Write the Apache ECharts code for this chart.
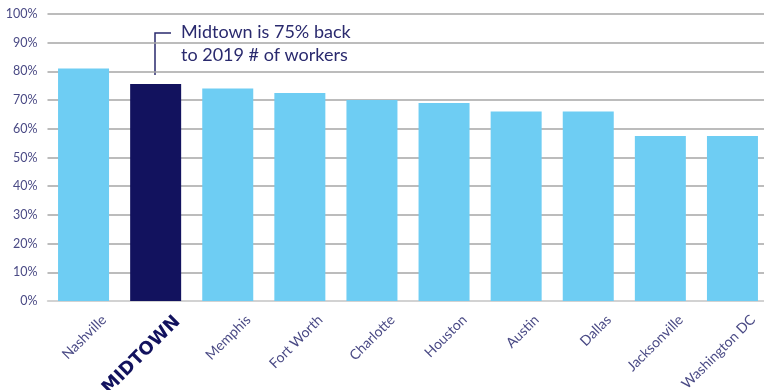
<!DOCTYPE html>
<html><head><meta charset="utf-8">
<script src="https://cdn.jsdelivr.net/npm/echarts@6/dist/echarts.min.js"></script>
<style>html,body{margin:0;padding:0;background:#fff}#c{width:764px;height:390px}</style>
</head><body><div id="c"></div>
<script>
const categories = ["Nashville","MIDTOWN","Memphis","Fort Worth","Charlotte","Houston","Austin","Dallas","Jacksonville","Washington DC"];
const values = [81, 75.6, 74, 72.5, 70, 69, 66, 66, 57.5, 57.5];
const yTicks = [0,10,20,30,40,50,60,70,80,90,100];
const highlight = "MIDTOWN";
const annotation = ["Midtown is 75% back", "to 2019 # of workers"];

const chart = echarts.init(document.getElementById('c'));
chart.setOption({
  animation:false,
  grid:{left:47.5,right:-4.5,top:14,bottom:89,containLabel:false,outerBoundsMode:'none'},
  xAxis:{type:'category',data:categories,
    axisLine:{lineStyle:{color:'#d9d9d9',width:1.5}},axisTick:{show:false},
    axisLabel:{rotate:45,interval:0,margin:-4,verticalAlign:'top',padding:[22,0,0,0],
      color:'#4a4a85',fontFamily:'Lato',fontSize:14,
      formatter:v=>v===highlight?'{h|'+v+'}':v,
      rich:{h:{fontFamily:'DejaVu Sans',fontWeight:900,fontSize:18,color:'#12125e'}}}},
  yAxis:{type:'value',min:0,max:100,interval:10,
    axisLabel:{formatter:v=>v+'%',color:'#4a4a85',fontFamily:'Lato',fontSize:12.5,margin:10},
    splitLine:{lineStyle:{color:'#a6a6a6',width:1.5}},axisLine:{show:false},axisTick:{show:false}},
  series:[{type:'bar',barWidth:51,
    data:values.map((v,i)=>({value:v,itemStyle:{color:categories[i]===highlight?'#12125e':'#6ecdf3'}}))}],
  graphic:[
    {type:'polyline',shape:{points:[[155,75],[155,33],[171,33]]},style:{stroke:'#2a2a6e',lineWidth:1.5,fill:null}},
    {type:'text',left:181,top:21,style:{text:annotation.join('\n'),fill:'#2a2a6e',font:'18px Lato',lineHeight:23}}
  ]
});
</script></body></html>
